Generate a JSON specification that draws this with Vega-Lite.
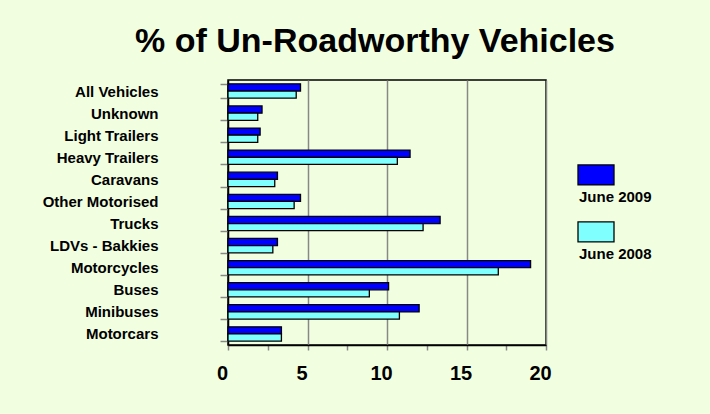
{
  "$schema": "https://vega.github.io/schema/vega-lite/v6.json",
  "autosize": "none",
  "width": 318,
  "height": 265,
  "padding": {"left": 228, "top": 80, "right": 164, "bottom": 69},
  "background": "#F1FFE0",
  "title": {
    "text": "% of Un-Roadworthy Vehicles",
    "font": "Liberation Sans",
    "fontSize": 34,
    "fontWeight": "bold",
    "color": "#000000",
    "anchor": "middle",
    "frame": "group",
    "baseline": "alphabetic",
    "offset": -13,
    "dx": -12
  },
  "data": {
    "values": [
      {"Category": "All Vehicles", "Year": "June 2009", "Value": 4.56},
      {"Category": "All Vehicles", "Year": "June 2008", "Value": 4.29},
      {"Category": "Unknown", "Year": "June 2009", "Value": 2.14},
      {"Category": "Unknown", "Year": "June 2008", "Value": 1.87},
      {"Category": "Light Trailers", "Year": "June 2009", "Value": 2.02},
      {"Category": "Light Trailers", "Year": "June 2008", "Value": 1.87},
      {"Category": "Heavy Trailers", "Year": "June 2009", "Value": 11.45},
      {"Category": "Heavy Trailers", "Year": "June 2008", "Value": 10.65},
      {"Category": "Caravans", "Year": "June 2009", "Value": 3.11},
      {"Category": "Caravans", "Year": "June 2008", "Value": 2.94},
      {"Category": "Other Motorised", "Year": "June 2009", "Value": 4.56},
      {"Category": "Other Motorised", "Year": "June 2008", "Value": 4.16},
      {"Category": "Trucks", "Year": "June 2009", "Value": 13.34},
      {"Category": "Trucks", "Year": "June 2008", "Value": 12.27},
      {"Category": "LDVs - Bakkies", "Year": "June 2009", "Value": 3.11},
      {"Category": "LDVs - Bakkies", "Year": "June 2008", "Value": 2.82},
      {"Category": "Motorcycles", "Year": "June 2009", "Value": 19.03},
      {"Category": "Motorcycles", "Year": "June 2008", "Value": 17.0},
      {"Category": "Buses", "Year": "June 2009", "Value": 10.1},
      {"Category": "Buses", "Year": "June 2008", "Value": 8.89},
      {"Category": "Minibuses", "Year": "June 2009", "Value": 12.02},
      {"Category": "Minibuses", "Year": "June 2008", "Value": 10.78},
      {"Category": "Motorcars", "Year": "June 2009", "Value": 3.36},
      {"Category": "Motorcars", "Year": "June 2008", "Value": 3.36}
    ]
  },
  "mark": {"type": "bar", "stroke": "#000000", "strokeWidth": 1.3},
  "encoding": {
    "y": {
      "field": "Category",
      "type": "nominal",
      "sort": null,
      "scale": {"paddingInner": 0.35, "paddingOuter": 0.175},
      "axis": {
        "title": null,
        "domainColor": "#000000",
        "domainWidth": 1.5,
        "tickBand": "extent",
        "tickColor": "#888888",
        "tickWidth": 1.5,
        "tickSize": 8,
        "labelFont": "Liberation Sans",
        "labelFontSize": 15,
        "labelFontWeight": "bold",
        "labelColor": "#000000",
        "labelPadding": 62,
        "labelLimit": 300
      }
    },
    "yOffset": {"field": "Year", "type": "nominal", "sort": ["June 2009", "June 2008"]},
    "x": {
      "field": "Value",
      "type": "quantitative",
      "scale": {"domain": [0, 20], "nice": false},
      "axis": {
        "title": null,
        "values": [0, 2.5, 5, 7.5, 10, 12.5, 15, 17.5, 20],
        "labelExpr": "datum.value % 5 === 0 ? datum.label : ''",
        "labelFlush": false,
        "labelOffset": -6,
        "grid": true,
        "gridColor": "#888888",
        "gridWidth": 1.5,
        "gridOpacity": {"condition": {"test": "datum.value % 5 === 0 && datum.value > 0", "value": 1}, "value": 0},
        "domainColor": "#000000",
        "domainWidth": 1.5,
        "tickColor": "#888888",
        "tickWidth": 1.5,
        "tickSize": 5,
        "labelFont": "Liberation Sans",
        "labelFontSize": 20,
        "labelFontWeight": "bold",
        "labelColor": "#000000",
        "labelPadding": 13
      }
    },
    "color": {
      "field": "Year",
      "type": "nominal",
      "sort": ["June 2009", "June 2008"],
      "scale": {"domain": ["June 2009", "June 2008"], "range": ["#0000FF", "#80FFFF"]},
      "legend": {
        "title": null,
        "orient": "none",
        "legendX": 349,
        "legendY": 98,
        "padding": 0,
        "symbolType": "M-1,-1.78L1,-1.78L1,-0.67L-1,-0.67Z",
        "symbolSize": 1296,
        "symbolStrokeColor": "#000000",
        "symbolStrokeWidth": 1.3,
        "symbolOpacity": 1,
        "labelOffset": -36,
        "labelFont": "Liberation Sans",
        "labelFontSize": 15,
        "labelFontWeight": "bold",
        "labelColor": "#000000",
        "labelBaseline": "middle",
        "rowPadding": 14
      }
    }
  },
  "config": {
    "view": {"stroke": "#000000", "strokeWidth": 1.5}
  }
}
